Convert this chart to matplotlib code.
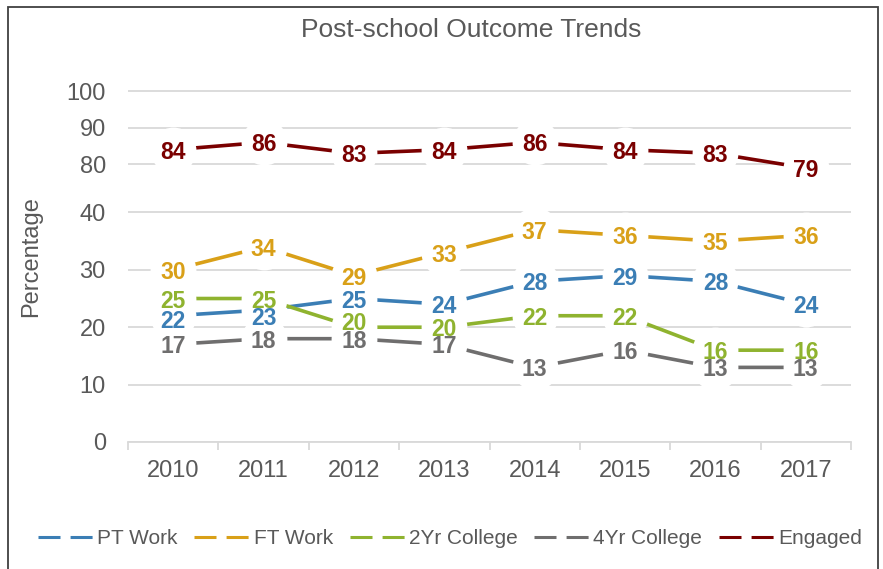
import numpy as np
import matplotlib
matplotlib.use('Agg')
import matplotlib.pyplot as plt
from matplotlib.lines import Line2D
from matplotlib.patches import Rectangle

plt.rcParams['font.family'] = ['Liberation Sans', 'DejaVu Sans']

years = ['2010', '2011', '2012', '2013', '2014', '2015', '2016', '2017']
pt_work = [22, 23, 25, 24, 28, 29, 28, 24]
ft_work = [30, 34, 29, 33, 37, 36, 35, 36]
college_2yr = [25, 25, 20, 20, 22, 22, 16, 16]
college_4yr = [17, 18, 18, 17, 13, 16, 13, 13]
engaged = [84, 86, 83, 84, 86, 84, 83, 79]
names = ['PT Work', 'FT Work', '2Yr College', '4Yr College', 'Engaged']
colors = ['#3B7EB5', '#D9A018', '#8FB32F', '#6F6E6E', '#7A0000']
y_ticks = [0, 10, 20, 30, 40, 80, 90, 100]

# broken axis: 0-40 normal, 40-70 squeezed, 70-100 at a smaller pitch
brk_in = [-100, 0, 40, 70, 100, 200]
brk_out = [-100, 0, 40, 42.0, 61.14, 125]

def fwd(v):
    return np.interp(v, brk_in, brk_out)

def inv(v):
    return np.interp(v, brk_out, brk_in)

# label nudges (points) where Excel pushed crowded labels apart
nudge = {(0, 0): -2, (0, 1): -4.5, (2, 2): 4.5}

grey_txt = '#595959'
fig = plt.figure(figsize=(8.83, 5.69), dpi=100)
ax = fig.add_axes([128/883, 1-442/569, (851-128)/883, (442-90)/569])
ax.set_yscale('function', functions=(fwd, inv))
ax.set_ylim(0, 100.3)
ax.set_xlim(-0.5, 7.5)

x = np.arange(len(years))
series = [pt_work, ft_work, college_2yr, college_4yr, engaged]
# big white markers leave the gap round each label, like the Excel original
for vals, c in zip(series, colors):
    ax.plot(x, vals, color=c, lw=2.6, solid_capstyle='butt', zorder=3,
            marker='o', ms=33, mfc='white', mec='white', mew=0)
for k, (vals, c) in enumerate(zip(series, colors)):
    for i, v in enumerate(vals):
        ax.annotate(str(v), (i, v), xytext=(0, nudge.get((k, i), 0)),
                    textcoords='offset points', ha='center', va='center_baseline',
                    color=c, fontsize=16.5, fontweight='bold', zorder=5)

ax.set_yticks(y_ticks)
ax.set_yticklabels([str(t) for t in y_ticks])
ax.yaxis.grid(True, color='#D9D9D9', lw=1.3)
ax.set_axisbelow(True)
ax.set_xticks(x)
ax.set_xticklabels(years)
ax.set_xticks(np.arange(-0.5, 8, 1), minor=True)
ax.tick_params(axis='x', which='major', length=0, pad=13, labelsize=17, labelcolor=grey_txt)
ax.tick_params(axis='x', which='minor', length=6, width=1.3, color='#D9D9D9')
ax.tick_params(axis='y', length=0, pad=16, labelsize=17, labelcolor=grey_txt)
for s in ['left', 'top', 'right']:
    ax.spines[s].set_visible(False)
ax.spines['bottom'].set_color('#D9D9D9')
ax.spines['bottom'].set_linewidth(1.3)

fig.text(471.5/883, 1-30/569, 'Post-school Outcome Trends', ha='center', va='center',
         fontsize=19, color=grey_txt)
fig.text(31/883, 1-257/569, 'Percentage', ha='center', va='center', rotation=90,
         fontsize=17, color=grey_txt)

handles = [Line2D([], [], color=c, lw=2.2, dashes=(7.2, 3.3)) for c in colors]
leg = fig.legend(handles, names, loc='center', bbox_to_anchor=(450/883, 1-539/569),
                 ncol=5, frameon=False, fontsize=15, handlelength=2.64,
                 handletextpad=0.2, columnspacing=0.8, labelcolor=grey_txt)

fig.patches.append(Rectangle((8/883, -0.1), (878-8)/883, 1.1-7/569, transform=fig.transFigure,
                             fill=False, ec='#404040', lw=1.3))

fig.savefig('out.png', dpi=100, facecolor='white')
